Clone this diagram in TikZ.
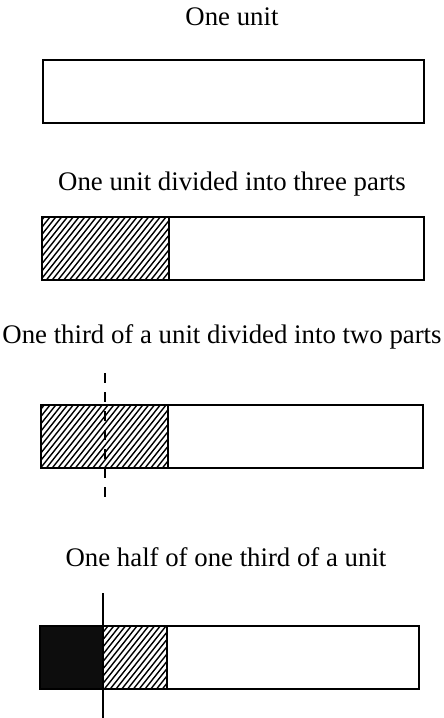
\documentclass[tikz,border=0pt]{standalone}
\usepackage{fontspec}
\setmainfont{Liberation Serif}
\begin{document}
\begin{tikzpicture}[x=1pt,y=-1pt,
  lbl/.style={font=\fontsize{26.8}{30}\selectfont, inner sep=0pt, anchor=center},
  barbox/.style={draw=black, line width=2.2pt},
  hatchline/.style={line width=1.4pt},
  cutdash/.style={line width=2pt, dash pattern=on 10pt off 9pt},
  cutline/.style={line width=1.6pt}]
\useasboundingbox (0,0) rectangle (444,718);
% titles
\node[lbl] (t1) at (232,17) {One unit};
\node[lbl] (t2) at (232,184) {One unit divided into three parts};
\node[lbl] (t3) at (222,337) {One third of a unit divided into two parts};
\node[lbl] (t4) at (226,557) {One half of one third of a unit};
% bar 1
\draw[barbox] (43,60) rectangle (424,123);
% bar 2
\begin{scope}
  \clip (43,217) rectangle (169,280);
  \foreach \i in {-12,...,30} \draw[hatchline] (\i*5.8,280) -- ++(50,-63);
\end{scope}
\draw[barbox] (169,217) -- (169,280);
\draw[barbox] (42,217) rectangle (424,280);
% bar 3
\begin{scope}
  \clip (41,405) rectangle (168,468);
  \foreach \i in {-12,...,30} \draw[hatchline] (\i*5.8,468) -- ++(50,-63);
\end{scope}
\draw[barbox] (168,405) -- (168,468);
\draw[barbox] (41,405) rectangle (423,468);
\coordinate (d1) at (105,373);
\coordinate (d2) at (105,502);
\draw[cutdash] (d1) -- (d2);
% bar 4
\fill[black!95] (40,626) rectangle (103,689);
\begin{scope}
  \clip (103,626) rectangle (167,689);
  \foreach \i in {0,...,30} \draw[hatchline] (\i*5.8,689) -- ++(50,-63);
\end{scope}
\draw[barbox] (167,626) -- (167,689);
\draw[barbox] (40,626) rectangle (419,689);
\coordinate (c1) at (103,593);
\coordinate (c2) at (103,718);
\draw[cutline] (c1) -- (c2);
\end{tikzpicture}
\end{document}
